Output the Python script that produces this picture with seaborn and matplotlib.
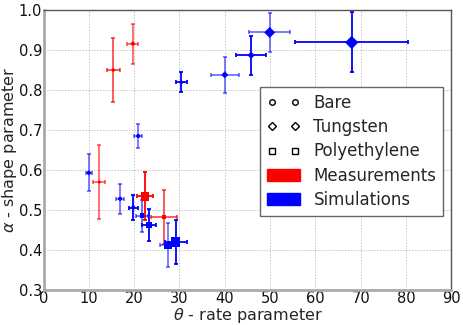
import numpy as np
import pandas as pd
import matplotlib
matplotlib.use("Agg")
import matplotlib.pyplot as plt
from matplotlib.lines import Line2D
from matplotlib.patches import Patch
import seaborn as sns

# ---- data ----
theta = [15.4, 19.7, 12.3, 22.4, 26.6,
         10.0, 16.9, 19.8, 20.9, 21.7, 23.3, 27.4, 29.2,
         30.4, 40.0, 45.8, 49.9, 68.0]
alpha = [0.850, 0.916, 0.570, 0.534, 0.483,
         0.593, 0.528, 0.506, 0.685, 0.486, 0.463, 0.412, 0.420,
         0.819, 0.838, 0.887, 0.944, 0.919]
theta_err = [1.4, 1.2, 1.3, 1.85, 2.85,
             0.66, 0.9, 0.95, 0.9, 1.25, 1.5, 1.7, 2.45,
             1.2, 3.05, 3.3, 4.5, 12.45]
alpha_err = [0.081, 0.050, 0.093, 0.060, 0.068,
             0.046, 0.038, 0.032, 0.029, 0.040, 0.040, 0.055, 0.054,
             0.025, 0.045, 0.049, 0.048, 0.075]
material = ["Tungsten", "Tungsten", "Bare", "Polyethylene", "Polyethylene",
            "Bare", "Bare", "Bare", "Bare", "Polyethylene", "Polyethylene",
            "Polyethylene", "Polyethylene",
            "Tungsten", "Tungsten", "Tungsten", "Tungsten", "Tungsten"]
source = ["Measurements"] * 5 + ["Simulations"] * 13
marker_area = [5, 7, 5, 40, 9,
               9, 9, 9, 9, 11, 20, 34, 44,
               6, 13, 14, 32, 46]
bar_alpha = [0.7, 0.6, 0.6, 1.0, 0.7,
             0.55, 0.55, 1.0, 0.55, 0.6, 1.0, 0.55, 1.0,
             1.0, 0.55, 1.0, 0.55, 1.0]

df = pd.DataFrame(dict(theta=theta, alpha=alpha, theta_err=theta_err,
                       alpha_err=alpha_err, material=material,
                       source=source, area=marker_area, bar_alpha=bar_alpha))

palette = {"Measurements": "#ff0000", "Simulations": "#0000ff"}
markers = {"Bare": "o", "Tungsten": "D", "Polyethylene": "s"}

sns.set_theme(style="white")
plt.rcParams["font.family"] = ["DejaVu Sans"]
plt.rcParams["mathtext.fontset"] = "dejavusans"

fig = plt.figure(figsize=(4.63, 3.25), dpi=100)
ax = fig.add_axes([0.094, 0.108, 0.881, 0.861])

for _, r in df.iterrows():
    ax.errorbar(r.theta, r.alpha, xerr=r.theta_err, yerr=r.alpha_err,
                fmt="none", ecolor=palette[r.source], alpha=r.bar_alpha,
                elinewidth=1.3, capsize=1.6, capthick=1.3, zorder=2)

sns.scatterplot(data=df, x="theta", y="alpha", hue="source", palette=palette,
                style="material", markers=markers, size="area",
                sizes=(min(marker_area), max(marker_area)),
                size_norm=(min(marker_area), max(marker_area)),
                linewidth=0, legend=False, ax=ax, zorder=3)

ax.set_xlim(0, 90)
ax.set_ylim(0.3, 1.0)
ax.set_xticks(np.arange(0, 91, 10))
ax.set_yticks(np.arange(0.3, 1.01, 0.1))
ax.set_yticklabels([f"{v:.1f}" for v in np.arange(0.3, 1.01, 0.1)])
ax.grid(True, color="#c4c4c4", linestyle=(0, (1.5, 1.5)), linewidth=0.7)
ax.set_axisbelow(True)
ax.tick_params(axis="both", labelsize=10.5, length=0, colors="#111111")
ax.tick_params(axis="x", pad=1)
ax.tick_params(axis="y", pad=1)
ax.set_xlabel(r"$\theta$ - rate parameter", fontsize=11.5, labelpad=0)
ax.set_ylabel(r"$\alpha$ - shape parameter", fontsize=11.5, labelpad=0)

for side in ["top", "right"]:
    ax.spines[side].set_color("#555555")
    ax.spines[side].set_linewidth(1.0)
for side in ["left", "bottom"]:
    ax.spines[side].set_color("#aaaaaa")
    ax.spines[side].set_linewidth(2.0)

handles = [
    Line2D([], [], marker="o", linestyle="none", markerfacecolor="white",
           markeredgecolor="black", markersize=4),
    Line2D([], [], marker="D", linestyle="none", markerfacecolor="white",
           markeredgecolor="black", markersize=4),
    Line2D([], [], marker="s", linestyle="none", markerfacecolor="white",
           markeredgecolor="black", markersize=4),
    Patch(facecolor=palette["Measurements"], edgecolor=palette["Measurements"]),
    Patch(facecolor=palette["Simulations"], edgecolor=palette["Simulations"]),
]
labels = ["Bare", "Tungsten", "Polyethylene", "Measurements", "Simulations"]
leg = ax.legend(handles, labels, loc="upper left", bbox_to_anchor=(0.531, 0.725),
                borderaxespad=0, fontsize=12, numpoints=2, fancybox=False,
                framealpha=1, edgecolor="#666666", handlelength=2.0,
                labelspacing=0.38, borderpad=0.4, handletextpad=0.8)
leg.get_frame().set_linewidth(1.0)

fig.savefig("out.png", dpi=100)
